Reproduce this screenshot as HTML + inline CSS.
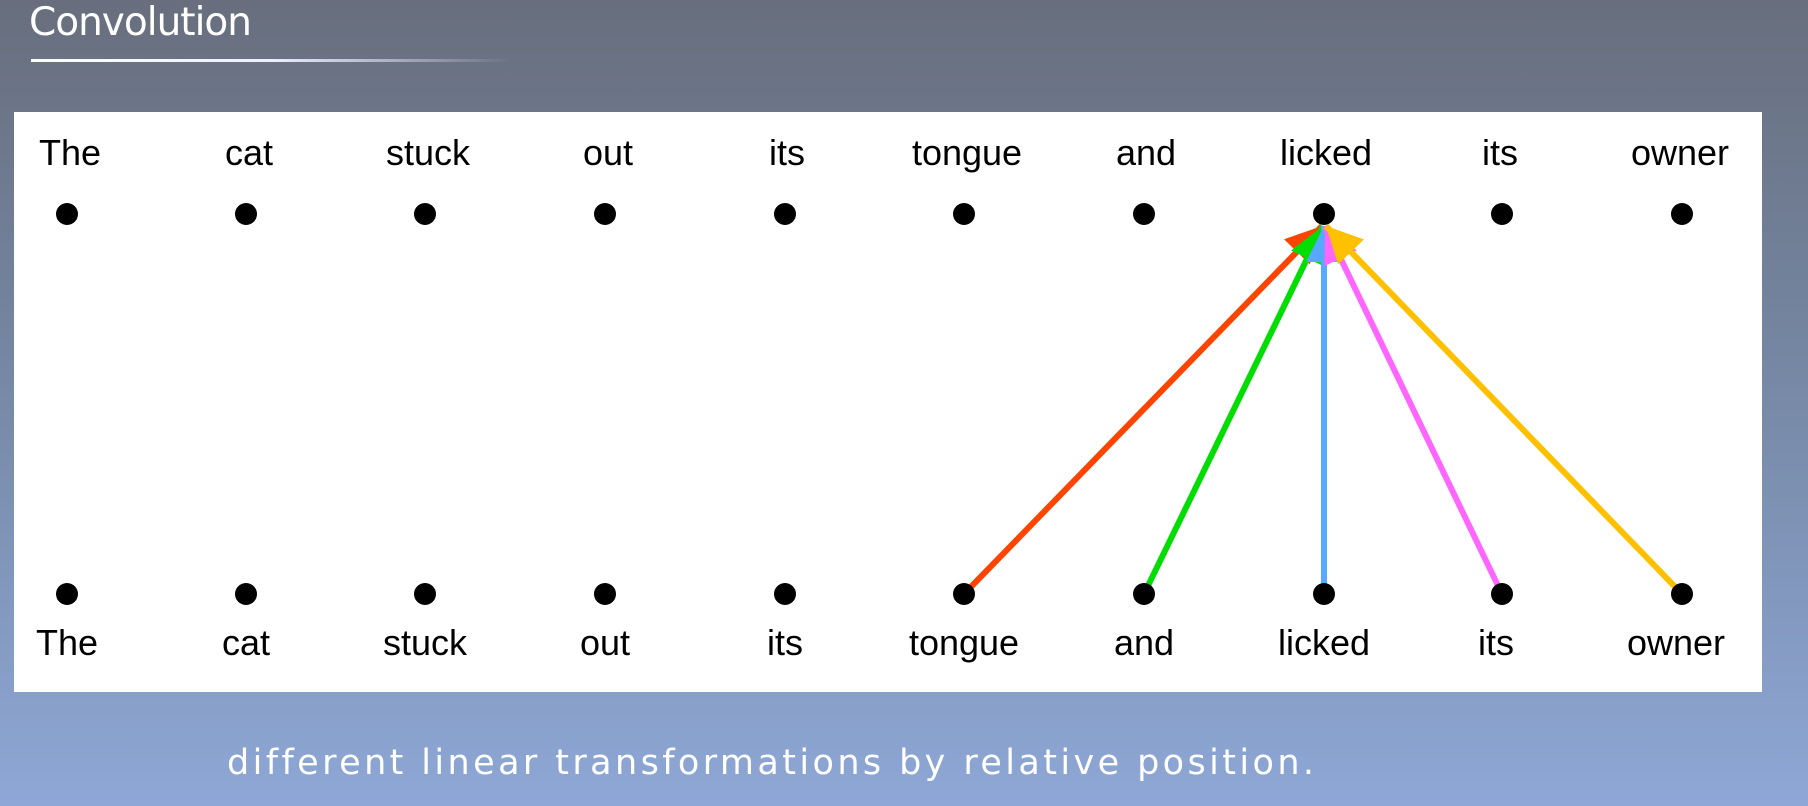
<!DOCTYPE html>
<html><head><meta charset="utf-8"><style>
html,body{margin:0;padding:0}
body{width:1808px;height:806px;overflow:hidden;background:linear-gradient(180deg,#686e7d 0%,#7587a3 45%,#8ea7d6 100%);position:relative;font-family:"Liberation Sans",sans-serif}
.title{position:absolute;left:29px;top:0px;font-size:39px;color:#fff;font-family:"DejaVu Sans","Liberation Sans",sans-serif;letter-spacing:-1px}
.ul{position:absolute;left:31px;top:59px;width:480px;height:3px;background:linear-gradient(90deg,#fff 0%,#eef 50%,rgba(255,255,255,0) 100%)}
.cap{position:absolute;left:227px;top:743px;font-size:35px;color:#fff;letter-spacing:3.4px;font-family:"DejaVu Sans","Liberation Sans",sans-serif;white-space:nowrap}
svg{position:absolute;left:0;top:0}
</style></head><body>
<div class="title">Convolution</div>
<div class="ul"></div>
<svg width="1808" height="806" viewBox="0 0 1808 806">
<defs>
<marker id="mr" markerUnits="userSpaceOnUse" markerWidth="50" markerHeight="50" refX="36" refY="18" orient="auto"><path d="M0,0 L36,18 L0,36 Z" fill="#ff4400"/></marker>
<marker id="mg" markerUnits="userSpaceOnUse" markerWidth="50" markerHeight="50" refX="36" refY="18" orient="auto"><path d="M0,0 L36,18 L0,36 Z" fill="#00dd00"/></marker>
<marker id="mb" markerUnits="userSpaceOnUse" markerWidth="50" markerHeight="50" refX="36" refY="18" orient="auto"><path d="M0,0 L36,18 L0,36 Z" fill="#55aaff"/></marker>
<marker id="mp" markerUnits="userSpaceOnUse" markerWidth="50" markerHeight="50" refX="36" refY="18" orient="auto"><path d="M0,0 L36,18 L0,36 Z" fill="#ff66ff"/></marker>
<marker id="my" markerUnits="userSpaceOnUse" markerWidth="50" markerHeight="50" refX="36" refY="18" orient="auto"><path d="M0,0 L36,18 L0,36 Z" fill="#ffc000"/></marker>
</defs>
<rect x="14" y="112" width="1748" height="580" fill="#fff"/>
<g font-size="36" fill="#000" text-anchor="middle" font-family="Liberation Sans, sans-serif">
<text x="70" y="165">The</text><text x="249" y="165">cat</text><text x="428" y="165">stuck</text><text x="608" y="165">out</text><text x="787" y="165">its</text><text x="967" y="165">tongue</text><text x="1146" y="165">and</text><text x="1326" y="165">licked</text><text x="1500" y="165">its</text><text x="1680" y="165">owner</text>
<text x="67" y="655">The</text><text x="246" y="655">cat</text><text x="425" y="655">stuck</text><text x="605" y="655">out</text><text x="785" y="655">its</text><text x="964" y="655">tongue</text><text x="1144" y="655">and</text><text x="1324" y="655">licked</text><text x="1496" y="655">its</text><text x="1676" y="655">owner</text>
</g>
<g stroke-width="6" fill="none">
<line x1="964" y1="594" x2="1322" y2="226" stroke="#ff4400" marker-end="url(#mr)"/>
<line x1="1144" y1="594" x2="1323" y2="226" stroke="#00dd00" marker-end="url(#mg)"/>
<line x1="1324" y1="594" x2="1324" y2="226" stroke="#55aaff" marker-end="url(#mb)"/>
<line x1="1502" y1="594" x2="1325" y2="226" stroke="#ff66ff" marker-end="url(#mp)"/>
<line x1="1682" y1="594" x2="1326" y2="226" stroke="#ffc000" marker-end="url(#my)"/>
</g>
<g fill="#000">
<circle cx="67" cy="214" r="11"/><circle cx="246" cy="214" r="11"/><circle cx="425" cy="214" r="11"/><circle cx="605" cy="214" r="11"/><circle cx="785" cy="214" r="11"/><circle cx="964" cy="214" r="11"/><circle cx="1144" cy="214" r="11"/><circle cx="1324" cy="214" r="11"/><circle cx="1502" cy="214" r="11"/><circle cx="1682" cy="214" r="11"/>
<circle cx="67" cy="594" r="11"/><circle cx="246" cy="594" r="11"/><circle cx="425" cy="594" r="11"/><circle cx="605" cy="594" r="11"/><circle cx="785" cy="594" r="11"/><circle cx="964" cy="594" r="11"/><circle cx="1144" cy="594" r="11"/><circle cx="1324" cy="594" r="11"/><circle cx="1502" cy="594" r="11"/><circle cx="1682" cy="594" r="11"/>
</g>
</svg>
<div class="cap">different linear transformations by relative position.</div>
</body></html>
